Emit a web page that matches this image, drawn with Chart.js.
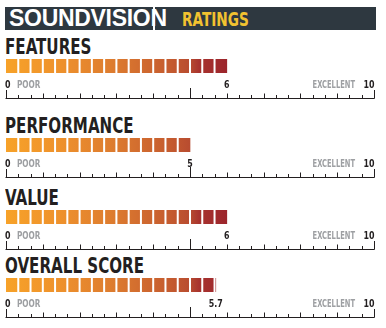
<!DOCTYPE html>
<html>
<head>
<meta charset="utf-8">
<script src="https://cdn.jsdelivr.net/npm/chart.js@4/dist/chart.umd.min.js"></script>
<style>
  html, body { margin:0; padding:0; background:#fff; }
  body { width:386px; height:328px; position:relative; overflow:hidden; }
  .box { position:absolute; top:7px; height:23px; background:#2e3840; }
  .brand { position:absolute; left:9px; top:5px; font:bold 23px "Liberation Sans", Arial, sans-serif; color:#fff; line-height:26px; letter-spacing:-0.3px; }
  .rat { position:absolute; left:182px; top:6px; font:bold 20px "DejaVu Sans Condensed", "Liberation Sans Narrow", sans-serif; color:#f2c230; line-height:26px; transform:scaleX(0.76); transform-origin:left top; }
  .ttl { position:absolute; left:5px; font:bold 21px "DejaVu Sans Condensed", "Liberation Sans Narrow", sans-serif; color:#231f20; line-height:20px; transform:scaleX(0.8); transform-origin:left top; white-space:nowrap; }
  canvas { position:absolute; left:0; }
</style>
</head>
<body>
<div class="box" style="left:5px;width:148px"></div>
<div class="box" style="left:155px;width:221px"></div>
<div class="brand">SOUNDVISION</div>
<div class="rat">RATINGS</div>
<script>
// ---- data ----
const categories = ["FEATURES", "PERFORMANCE", "VALUE", "OVERALL SCORE"];
const scores = [6, 5, 6, 5.7];
const scoreLabels = ["6", "5", "6", "5.7"];
const scaleRange = [0, 10];
const rangeLabels = ["POOR", "EXCELLENT"];
const segmentsPerUnit = 3;

// ---- layout ----
const barTops = [59, 138, 210, 278];
const BAR_H = 14, CANVAS_H = 44;
const FONT = '"DejaVu Sans Condensed", "Liberation Sans Narrow", sans-serif';

function txt(ctx, s, x, y, align, sx) {
  ctx.save();
  ctx.translate(x, y);
  ctx.scale(sx, 1);
  ctx.textAlign = align;
  ctx.fillText(s, 0, 0);
  ctx.restore();
}

const segPlugin = {
  id: 'segments',
  afterDatasetsDraw(chart, args, opts) {
    const ctx = chart.ctx, xs = chart.scales.x, a = chart.chartArea;
    const v = opts.value;
    ctx.save();
    ctx.fillStyle = '#ffffff';
    const n = Math.ceil(v * segmentsPerUnit - 1e-6);
    for (let k = 1; k < n; k++) {
      const x = xs.getPixelForValue(k / segmentsPerUnit);
      ctx.fillRect(x - 1, a.top, 2, a.bottom - a.top);
    }
    // axis
    const y = a.top + 39.5;
    ctx.strokeStyle = '#231f20';
    ctx.lineWidth = 1;
    ctx.beginPath();
    ctx.moveTo(xs.getPixelForValue(scaleRange[0]) - 0.5, y);
    ctx.lineTo(xs.getPixelForValue(scaleRange[1]) + 0.5, y);
    const total = (scaleRange[1] - scaleRange[0]) * segmentsPerUnit;
    for (let k = 0; k <= total; k++) {
      const val = scaleRange[0] + k / segmentsPerUnit;
      const x = Math.round(xs.getPixelForValue(val)) + 0.5;
      let h = 3.5;
      if (k === 0 || k === total) h = 8.5;
      else if (k === total / 2) h = 10.5;
      else if (k % segmentsPerUnit === 0) h = 5;
      ctx.moveTo(x, y);
      ctx.lineTo(x, y - h);
    }
    ctx.stroke();
    // labels
    const ly = a.top + 28.5;
    ctx.textBaseline = 'alphabetic';
    ctx.font = 'bold 11px ' + FONT;
    ctx.fillStyle = '#231f20';
    txt(ctx, String(scaleRange[0]), xs.getPixelForValue(scaleRange[0]) - 1, ly, 'left', 0.8);
    txt(ctx, String(scaleRange[1]), xs.getPixelForValue(scaleRange[1]) + 0.5, ly, 'right', 0.8);
    txt(ctx, opts.label, xs.getPixelForValue(v), ly, 'center', 0.8);
    ctx.fillStyle = '#9d9fa2';
    txt(ctx, rangeLabels[0], xs.getPixelForValue(scaleRange[0]) + 11, ly, 'left', 0.74);
    txt(ctx, rangeLabels[1], xs.getPixelForValue(scaleRange[1]) - 19, ly, 'right', 0.68);
    ctx.restore();
  }
};

categories.forEach((name, i) => {
  const t = document.createElement('div');
  t.className = 'ttl';
  t.style.top = (barTops[i] - 22) + 'px';
  t.textContent = name;
  document.body.appendChild(t);

  const c = document.createElement('canvas');
  c.style.top = barTops[i] + 'px';
  c.width = 386; c.height = CANVAS_H;
  c.style.width = '386px'; c.style.height = CANVAS_H + 'px';
  document.body.appendChild(c);

  new Chart(c, {
    type: 'bar',
    data: {
      labels: [name],
      datasets: [{
        data: [scores[i]],
        barPercentage: 1,
        categoryPercentage: 1,
        borderWidth: 0,
        backgroundColor(ctx) {
          const ch = ctx.chart, xs = ch.scales.x;
          if (!xs || !ch.chartArea) return '#e08030';
          const g = ch.ctx.createLinearGradient(xs.getPixelForValue(0), 0, xs.getPixelForValue(10), 0);
          g.addColorStop(0, '#f7a229');
          g.addColorStop(0.15, '#ee912c');
          g.addColorStop(0.3, '#dc7a2f');
          g.addColorStop(0.45, '#c45a2f');
          g.addColorStop(0.5, '#b84c30');
          g.addColorStop(0.525, '#a8332e');
          g.addColorStop(0.6, '#9c252c');
          g.addColorStop(1, '#8a1e28');
          return g;
        }
      }]
    },
    options: {
      indexAxis: 'y',
      responsive: false,
      animation: false,
      devicePixelRatio: 1,
      layout: { padding: { left: 6, right: 12, top: 0, bottom: CANVAS_H - BAR_H } },
      scales: {
        x: { display: false, min: scaleRange[0], max: scaleRange[1] },
        y: { display: false }
      },
      plugins: {
        legend: { display: false },
        tooltip: { enabled: false },
        segments: { value: scores[i], label: scoreLabels[i] }
      }
    },
    plugins: [segPlugin]
  });
});
</script>
</body>
</html>
